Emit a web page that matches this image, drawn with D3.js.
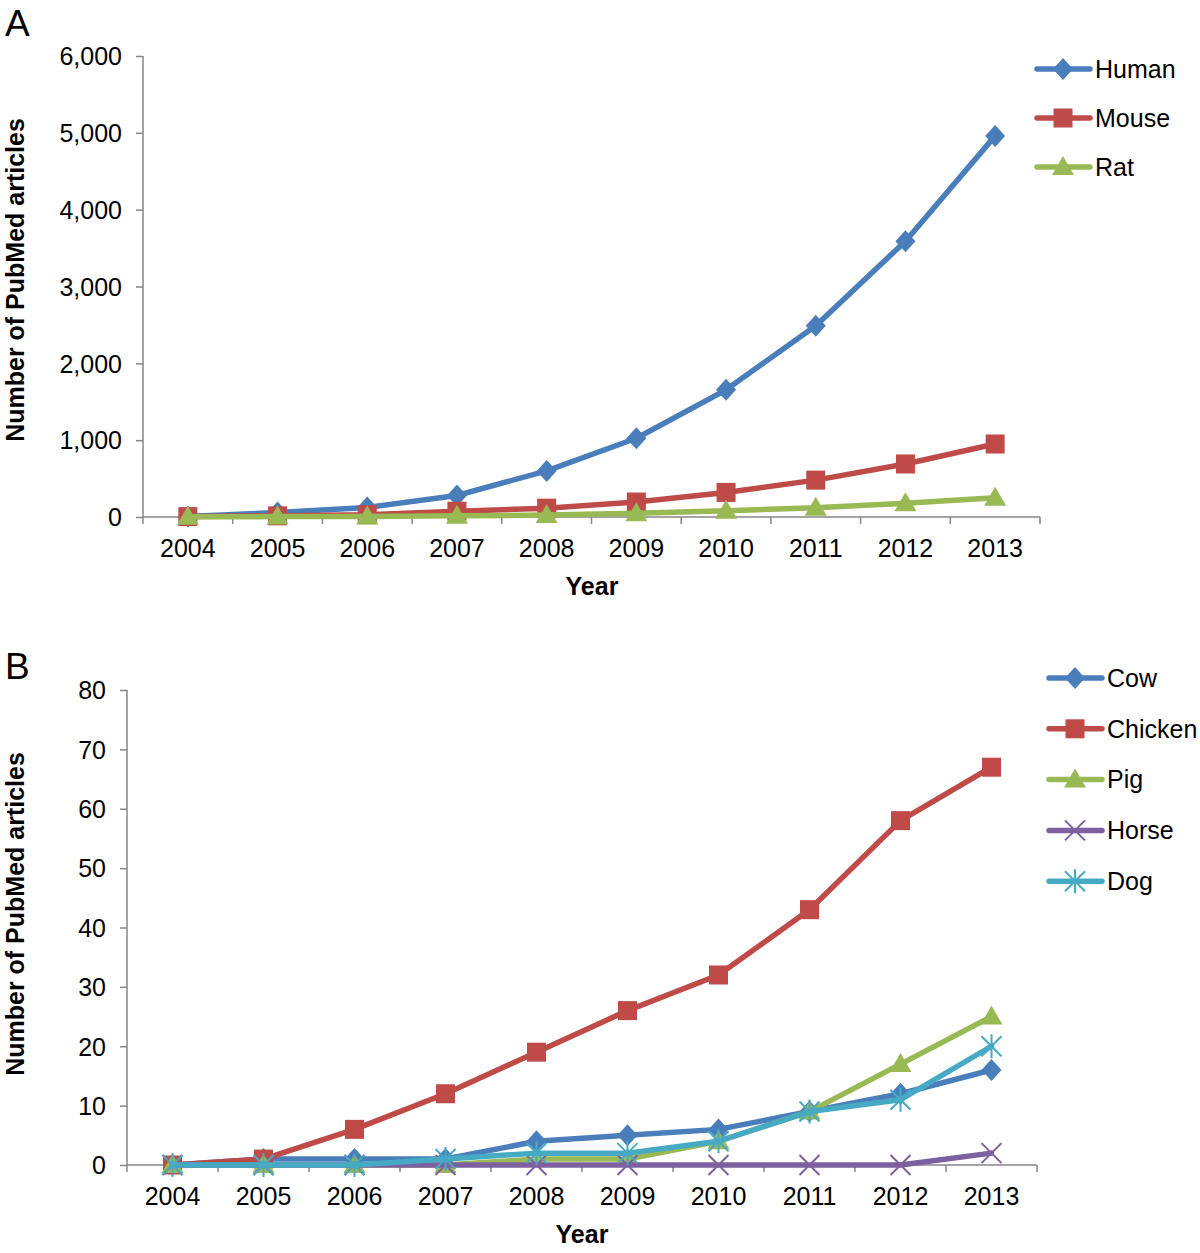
<!DOCTYPE html>
<html><head><meta charset="utf-8">
<script src="https://cdn.jsdelivr.net/npm/d3@7"></script>
<style>body{margin:0;background:#fff}svg{display:block;font-family:"Liberation Sans",Arial,sans-serif}</style>
</head><body>
<svg id="c" width="1200" height="1253"></svg>
<script>
const years = ["2004","2005","2006","2007","2008","2009","2010","2011","2012","2013"];
const human = [5,60,125,280,600,1025,1655,2490,3590,4960];
const mouse = [5,15,30,75,115,195,320,480,690,950];
const rat = [2,5,8,15,25,50,80,120,180,250];
const cow = [0,1,1,1,4,5,6,9,12,16];
const chicken = [0,1,6,12,19,26,32,43,58,67];
const pig = [0,0,0,0,1,1,4,9,17,25];
const horse = [0,0,0,0,0,0,0,0,0,2];
const dog = [0,0,0,1,2,2,4,9,11,20];
const ticksA = [0,1000,2000,3000,4000,5000,6000];
const ticksB = [0,10,20,30,40,50,60,70,80];

const C = {blue:"#4A7EBB", red:"#BE4B48", green:"#98B954", purple:"#7D60A0", cyan:"#46AAC5"};
const svg = d3.select("#c");
const axisCol = "#868686";

function marker(g, type, color){
  if(type==="diamond"){
    g.append("path").attr("d","M0,-11L10,0L0,11L-10,0Z").attr("fill",color);
  } else if(type==="square"){
    g.append("rect").attr("x",-9.5).attr("y",-9.5).attr("width",19).attr("height",19).attr("fill",color);
  } else if(type==="triangle"){
    g.append("path").attr("d","M0,-11L11,8L-11,8Z").attr("fill",color);
  } else if(type==="x"){
    g.append("path").attr("d","M-10,-10L10,10M-10,10L10,-10").attr("stroke",color).attr("stroke-width",2).attr("fill","none");
  } else if(type==="star"){
    g.append("path").attr("d","M-10,-10L10,10M-10,10L10,-10M0,-12L0,12").attr("stroke",color).attr("stroke-width",2).attr("fill","none");
  }
}

function panel(cfg){
  const x = d3.scaleBand().domain(years).range([cfg.x0,cfg.x1]).paddingInner(0).paddingOuter(0);
  const y = d3.scaleLinear().domain(cfg.domain).range([cfg.y0,cfg.y1]);
  const g = svg.append("g");
  // y axis
  const ya = d3.axisLeft(y).tickValues(cfg.ticks).tickSize(7).tickFormat(cfg.fmt);
  const yg = g.append("g").attr("transform",`translate(${cfg.x0},0)`).call(ya);
  yg.select(".domain").attr("stroke",axisCol).attr("stroke-width",1.5).attr("d",`M0,${cfg.y0}V${cfg.y1}`);
  yg.selectAll(".tick line").attr("stroke",axisCol).attr("stroke-width",1.5);
  yg.selectAll(".tick text").attr("font-size",25).attr("fill","#000").attr("x",-21).attr("dy","0.35em");
  // x axis
  const xa = d3.axisBottom(x).tickSize(0).tickSizeOuter(0);
  const xg = g.append("g").attr("transform",`translate(0,${cfg.y0})`).call(xa);
  xg.select(".domain").attr("stroke",axisCol).attr("stroke-width",1.5).attr("d",`M${cfg.x0},0H${cfg.x1}`);
  xg.selectAll(".tick text").attr("font-size",25).attr("fill","#000").attr("y",40).attr("dy",0);
  const bounds = years.map(v=>x(v)+x.bandwidth()).concat([x(years[0])]);
  g.append("g").selectAll("line").data(bounds).join("line")
    .attr("x1",d=>d).attr("x2",d=>d).attr("y1",cfg.y0).attr("y2",cfg.y0+7)
    .attr("stroke",axisCol).attr("stroke-width",1.5);
  // titles
  g.append("text").attr("x",cfg.yearX).attr("y",cfg.y0+78).attr("text-anchor","middle")
    .attr("font-size",25).attr("font-weight","bold").text("Year");
  g.append("text").attr("transform",`translate(${cfg.ylabX},${cfg.ylabY}) rotate(-90)`)
    .attr("text-anchor","middle").attr("font-size",25).attr("font-weight","bold").text("Number of PubMed articles");
  g.append("text").attr("x",5).attr("y",cfg.letterY).attr("font-size",37).text(cfg.letter);
  // series
  const line = d3.line().x((d,i)=>x(years[i])+x.bandwidth()/2).y(d=>y(d));
  cfg.series.forEach(s=>{
    g.append("path").datum(s.values).attr("d",line).attr("fill","none")
      .attr("stroke",s.color).attr("stroke-width",5.5).attr("stroke-linejoin","round").attr("stroke-linecap","round");
    s.values.forEach((v,i)=>{
      const mg = g.append("g").attr("transform",`translate(${x(years[i])+x.bandwidth()/2},${y(v)})`);
      marker(mg,s.type,s.color);
    });
  });
  // legend
  cfg.series.forEach((s,i)=>{
    const ly = cfg.legY + i*cfg.legStep;
    g.append("line").attr("x1",cfg.legX).attr("x2",cfg.legX+53).attr("y1",ly).attr("y2",ly)
      .attr("stroke",s.color).attr("stroke-width",5.5).attr("stroke-linecap","round");
    const mg = g.append("g").attr("transform",`translate(${cfg.legX+26},${ly})`);
    marker(mg,s.type,s.color);
    g.append("text").attr("x",cfg.legX+58).attr("y",ly).attr("dy","0.35em").attr("font-size",25).text(s.name);
  });
}

panel({x0:143,x1:1040,y0:517,y1:56,domain:[0,6000],ticks:ticksA,fmt:d3.format(","),
  yearX:592,ylabX:24,ylabY:280,letter:"A",letterY:36,legX:1037,legY:69,legStep:49,
  series:[
    {name:"Human",values:human,color:C.blue,type:"diamond"},
    {name:"Mouse",values:mouse,color:C.red,type:"square"},
    {name:"Rat",values:rat,color:C.green,type:"triangle"}
  ]});

panel({x0:127,x1:1037,y0:1165,y1:690,domain:[0,80],ticks:ticksB,fmt:d3.format("d"),
  yearX:582,ylabX:24,ylabY:914,letter:"B",letterY:679,legX:1049,legY:678,legStep:50.8,
  series:[
    {name:"Cow",values:cow,color:C.blue,type:"diamond"},
    {name:"Chicken",values:chicken,color:C.red,type:"square"},
    {name:"Pig",values:pig,color:C.green,type:"triangle"},
    {name:"Horse",values:horse,color:C.purple,type:"x"},
    {name:"Dog",values:dog,color:C.cyan,type:"star"}
  ]});
</script>
</body></html>
